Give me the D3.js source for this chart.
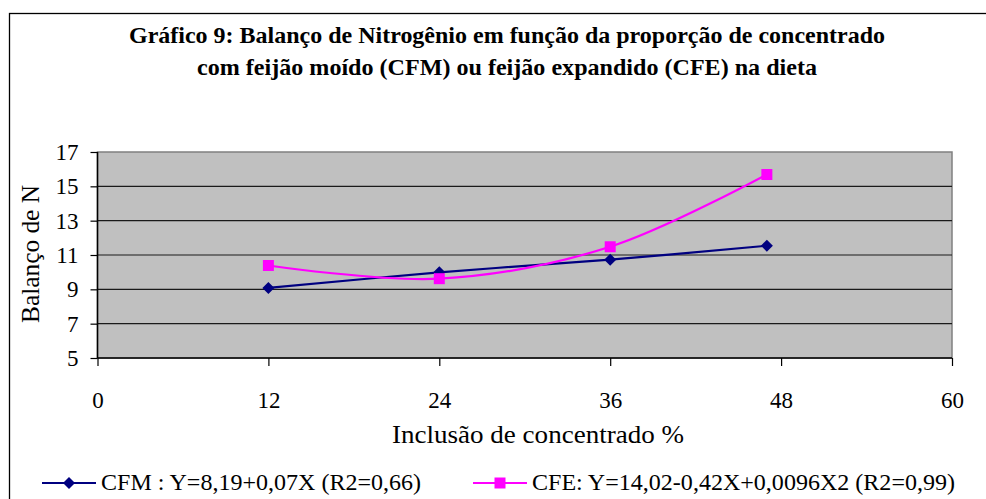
<!DOCTYPE html>
<html>
<head>
<meta charset="utf-8">
<script src="https://cdn.jsdelivr.net/npm/d3@7"></script>
<style>
  body { margin: 0; background: #fff; }
</style>
</head>
<body>
<svg width="986" height="499"></svg>
<script>
// data
const xValues = [12, 24, 36, 47];
const cfmValues = [9.08, 9.99, 10.73, 11.54];
const cfeValues = [10.39, 9.62, 11.48, 15.69];
const xTicks = [0, 12, 24, 36, 48, 60];
const yTicks = [5, 7, 9, 11, 13, 15, 17];
const titleLines = [
  'Gráfico 9: Balanço de Nitrogênio em função da proporção de concentrado',
  'com feijão moído (CFM) ou feijão expandido (CFE) na dieta'
];
const legendLabels = ['CFM : Y=8,19+0,07X (R2=0,66)', 'CFE: Y=14,02-0,42X+0,0096X2 (R2=0,99)'];

const FONT = '"Liberation Serif", "Times New Roman", serif';
const svg = d3.select('svg');

// outer frame
svg.append('rect')
  .attr('x', 9.5).attr('y', 13.5)
  .attr('width', 990).attr('height', 500)
  .attr('fill', 'none').attr('stroke', '#000').attr('stroke-width', 1.3);

// title
const titleLen = [756, 620];
svg.selectAll('.title').data(titleLines).enter().append('text')
  .attr('x', 507).attr('y', (d, i) => 43 + i * 31.5)
  .attr('text-anchor', 'middle')
  .attr('font-family', FONT)
  .attr('font-size', 23).attr('font-weight', 'bold')
  .attr('textLength', (d, i) => titleLen[i])
  .attr('lengthAdjust', 'spacingAndGlyphs')
  .text(d => d);

const xScale = d3.scaleLinear().domain([0, 60]).range([97.5, 952]);
const yScale = d3.scaleLinear().domain([5, 17]).range([358, 152]);

// plot area
svg.append('rect')
  .attr('x', xScale(0)).attr('y', yScale(17))
  .attr('width', xScale(60) - xScale(0)).attr('height', yScale(5) - yScale(17))
  .attr('fill', '#c0c0c0').attr('stroke', '#808080').attr('stroke-width', 1.5);

// gridlines
svg.append('g').selectAll('line').data(yTicks.filter(t => t > 5 && t < 17)).enter().append('line')
  .attr('x1', xScale(0)).attr('x2', xScale(60))
  .attr('y1', d => yScale(d)).attr('y2', d => yScale(d))
  .attr('stroke', '#1a1a1a').attr('stroke-width', 1.2);

// axes
const yAxis = d3.axisLeft(yScale).tickValues(yTicks).tickSize(7).tickPadding(12);
const yAxisG = svg.append('g').attr('transform', `translate(${xScale(0)},0)`).call(yAxis);
const xAxis = d3.axisBottom(xScale).tickValues(xTicks).tickSize(8).tickPadding(26);
const xAxisG = svg.append('g').attr('transform', `translate(0,${yScale(5)})`).call(xAxis);
[yAxisG, xAxisG].forEach(g => {
  g.attr('font-family', FONT);
  g.select('.domain').attr('stroke', '#000').attr('stroke-width', 1.5);
  g.selectAll('.tick line').attr('stroke', '#000').attr('stroke-width', 1.2);
  g.selectAll('.tick text')
    .attr('font-family', FONT)
    .attr('font-size', 23).attr('fill', '#000');
});
xAxisG.select('.domain').attr('d', `M${xScale(0)},0H${xScale(60)}`);
yAxisG.select('.domain').attr('d', `M0,${yScale(5)}V${yScale(17)}`);

// axis titles
svg.append('text')
  .attr('x', 538).attr('y', 443)
  .attr('text-anchor', 'middle')
  .attr('font-family', FONT).attr('font-size', 25)
  .attr('textLength', 292).attr('lengthAdjust', 'spacingAndGlyphs')
  .text('Inclusão de concentrado %');
svg.append('text')
  .attr('transform', 'translate(39,254) rotate(-90)')
  .attr('text-anchor', 'middle')
  .attr('font-family', FONT).attr('font-size', 25)
  .attr('textLength', 138).attr('lengthAdjust', 'spacingAndGlyphs')
  .text('Balanço de N');

// series
const line = d3.line().curve(d3.curveCardinal.tension(0))
  .x(d => xScale(d[0])).y(d => yScale(d[1]));

const series = [
  { values: cfmValues, color: '#000080', symbol: d3.symbolSquare, size: 72, rotate: 45 },
  { values: cfeValues, color: '#ff00ff', symbol: d3.symbolSquare, size: 121, rotate: 0 }
];

series.forEach(s => {
  const pts = xValues.map((x, i) => [x, s.values[i]]);
  svg.append('path')
    .attr('d', line(pts))
    .attr('fill', 'none').attr('stroke', s.color).attr('stroke-width', 2.2);
  svg.append('g').selectAll('path').data(pts).enter().append('path')
    .attr('d', d3.symbol().type(s.symbol).size(s.size))
    .attr('transform', d => `translate(${xScale(d[0])},${yScale(d[1])}) rotate(${s.rotate})`)
    .attr('fill', s.color);
});

// legend
const legendX = [42, 473];
const legendLen = [320, 423];
const legend = svg.append('g');
series.forEach((s, i) => {
  const lx = legendX[i];
  legend.append('line')
    .attr('x1', lx).attr('x2', lx + 54)
    .attr('y1', 483).attr('y2', 483)
    .attr('stroke', s.color).attr('stroke-width', 2.2);
  legend.append('path')
    .attr('d', d3.symbol().type(s.symbol).size(s.size))
    .attr('transform', `translate(${lx + 27},483) rotate(${s.rotate})`)
    .attr('fill', s.color);
  legend.append('text')
    .attr('x', lx + 59).attr('y', 490)
    .attr('font-family', FONT).attr('font-size', 23)
    .attr('textLength', legendLen[i]).attr('lengthAdjust', 'spacingAndGlyphs')
    .text(legendLabels[i]);
});
</script>
</body>
</html>
